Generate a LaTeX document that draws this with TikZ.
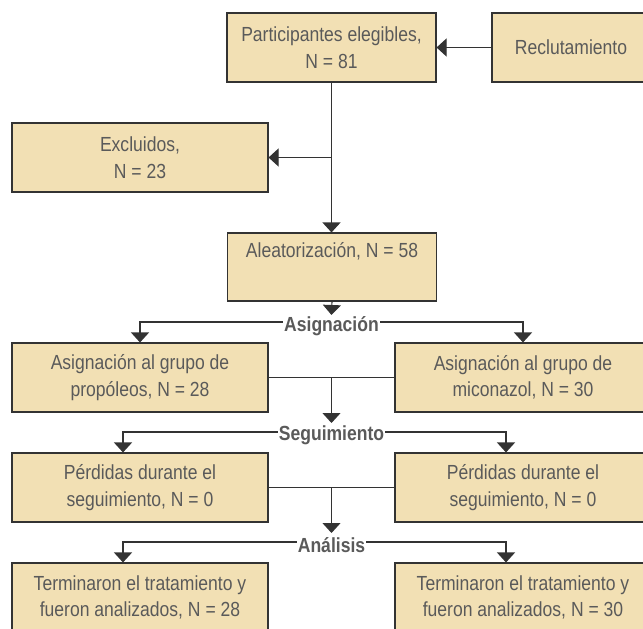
\documentclass[tikz,border=0pt]{standalone}
\usepackage{fontspec}
\setmainfont{Liberation Sans}[FakeStretch=0.86]
\usepackage{tikz}
\usetikzlibrary{arrows.meta}
\definecolor{boxfill}{HTML}{F2E0B4}
\definecolor{boxline}{HTML}{333333}
\definecolor{txtgray}{HTML}{5A5A5A}

\begin{document}
\begin{tikzpicture}[x=1pt, y=-1pt]
      \tikzstyle{box} = [draw=boxline, fill=boxfill, line width=1.1pt, inner sep=0pt, align=center, text=txtgray, minimum height=69pt, font=\fontsize{20.4}{26.5}\selectfont]
      \tikzstyle{wide} = [box, minimum width=256pt]
      \tikzstyle{narrow} = [box, minimum width=209pt]
      \tikzstyle{phase} = [fill=white, inner sep=1pt, text=txtgray, font=\bfseries\fontsize{20.4}{24}\selectfont]
      \tikzstyle{edge} = [-{Triangle[width=18pt,length=10pt]}, line width=1.1pt, draw=boxline]
      \tikzstyle{link} = [line width=1.1pt, draw=boxline]

      \useasboundingbox (0,0) rectangle (643,629);
      \clip (0,0) rectangle (643,629);

      \node[narrow] (elig) at (331.5,47.5) {Participantes elegibles,\\N = 81};
      \node[box, minimum width=158pt] (reclut) at (571,47.5) {Reclutamiento};
      \node[wide] (excl) at (140,157.5) {Excluidos,\\N = 23};
      \node[narrow, minimum height=68pt] (aleat) at (332,267) {Aleatorización, N = 58\\\strut};
      \node[wide] (asigP) at (140,377.5) {Asignación al grupo de\\propóleos, N = 28};
      \node[wide] (asigM) at (523,377.5) {Asignación al grupo de\\miconazol, N = 30};
      \node[wide] (perdP) at (140,487.5) {Pérdidas durante el\\seguimiento, N = 0};
      \node[wide] (perdM) at (523,487.5) {Pérdidas durante el\\seguimiento, N = 0};
      \node[wide] (termP) at (140,597.5) {Terminaron el tratamiento y\\fueron analizados, N = 28};
      \node[wide] (termM) at (523,597.5) {Terminaron el tratamiento y\\fueron analizados, N = 30};

      % recruitment and exclusion
      \draw[edge] (reclut) -- (elig);
      \draw[edge] (elig.south) -- (elig.south |- aleat.north);
      \coordinate (exc) at (elig.south |- excl.east);
      \draw[edge] (exc) -- (excl.east);

      % allocation
      \coordinate (asg) at (331.5,322);
      \draw[edge] (aleat.south) -- ([yshift=7pt]asg);
      \draw[edge] (asg) -| (asigP.north);
      \draw[edge] (asg) -| (asigM.north);
      \node[phase] (asig) at ([yshift=-4pt]asg) {Asignación};

      % follow-up
      \draw[link] (asigP.east) -- (asigM.west);
      \coordinate (seg) at (331.5,432);
      \draw[edge] (asigP.east -| seg) -- ([yshift=9pt]seg);
      \draw[edge] (seg) -| ([xshift=-17pt]perdP.north);
      \draw[edge] (seg) -| ([xshift=-17pt]perdM.north);
      \node[phase] (segu) at ([yshift=-3pt]seg) {Seguimiento};

      % analysis
      \draw[link] (perdP.east) -- (perdM.west);
      \coordinate (ana) at (331.5,542);
      \draw[edge] (perdP.east -| ana) -- ([yshift=9pt]ana);
      \draw[edge] (ana) -| ([xshift=-17pt]termP.north);
      \draw[edge] (ana) -| ([xshift=-17pt]termM.north);
      \node[phase] (anal) at ([yshift=-3pt]ana) {Análisis};
    \end{tikzpicture}
\end{document}
